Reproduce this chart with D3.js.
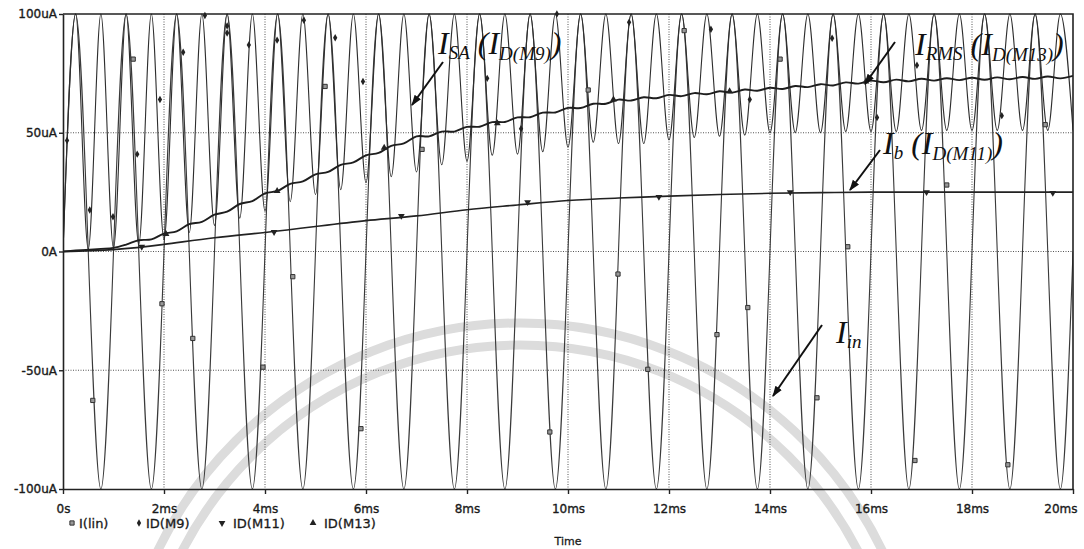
<!DOCTYPE html>
<html><head><meta charset="utf-8">
<script src="https://cdn.jsdelivr.net/npm/d3@7"></script>
<style>body{margin:0;background:#fff}svg{display:block}</style>
</head><body>
<svg id="c" width="1084" height="549"></svg>
<script>
// ---------- data (time in ms, current in uA) ----------
const yTicks = [-100, -50, 0, 50, 100];
const yTickLabels = ["-100uA", "-50uA", "0A", "50uA", "100uA"];
const xTicks = [0, 2, 4, 6, 8, 10, 12, 14, 16, 18, 20];
const xTickLabels = ["0s", "2ms", "4ms", "6ms", "8ms", "10ms", "12ms", "14ms", "16ms", "18ms", "20ms"];
const legendNames = ["I(lin)", "ID(M9)", "ID(M11)", "ID(M13)"];

// I(lin): 1 kHz input, positive peak and negative peak of every cycle
const linPeaks = [100,100,100,100,100,100,100,100,100,100,100,100,100,100,100,100,100,100,100,100];
const linTroughs = [-100,-100,-100,-100,-100,-100,-100,-100,-100,-100,-100,-100,-100,-100,-100,-100,-100,-100,-100,-100];

// ID(M9): rectified current, peak of every half cycle and the dip at each zero crossing
const m9Peaks = [100,100,100,100,100,100,100,100,100,100,100,100,100,100,100,100,100,100,100,100,
                 100,100,100,100,100,100,100,100,100,100,100,100,100,100,100,100,100,100,100,100];
const m9Floors = [1,1.5,3,5,8,11,14,17,21,24,26,29,31.5,33.5,36.5,38,40.5,41,42,44,
                  46,45.5,45.5,47,48,48.5,49,50,50,50,50.5,50.5,50.5,51,51,51,51,51,51,51];

// ID(M11) sampled every 1 ms
const m11Ms = [0,1,2,3,4,5,6,7,8,9,10,11,12,13,14,15,16,17,18,19,20];
const m11Values = [0,0.8,3,5.8,8,10.5,13,15,17.6,19.6,21.5,22.5,23.3,24,24.5,24.8,25,25,25,25,25];
// ID(M13) sampled every 0.25 ms (shows the ripple)
const m13Values = [0,0.4,0.75,1.1,1.5,2.9,4.75,5.1,7.5,8.5,11.5,12.5,15.5,16.75,20.0,21.25,
  24.5,25.5,28.5,29.5,32.5,33.5,36.5,37.5,40.5,41.5,44.5,45.5,48.5,48.5,50.5,50.5,
  52.45,52.55,54.45,54.55,56.45,56.55,58.45,58.55,60.45,60.4,62.2,62.2,63.95,63.55,64.95,64.55,
  65.95,65.4,66.7,66.2,67.45,66.9,68.2,67.7,68.95,68.4,69.7,69.2,70.45,69.9,71.2,70.7,
  71.95,71.25,72.35,71.65,72.75,71.95,72.95,72.15,73.15,72.3,73.3,72.5,73.45,72.7,73.7,72.9,73.95];

// sparse symbol markers [ms, uA]
const linMarks = [[0.59,-62.7],[1.39,81],[1.96,-22],[2.57,-36.6],[3.96,-48.7],[4.55,-10.6],[5.19,69.5],
  [5.90,-74.6],[7.11,43],[9.64,-76],[10.40,68],[10.99,-9.5],[11.58,-49.6],[12.30,93],[12.95,-35],
  [13.56,-23.6],[14.20,81],[14.93,-61.6],[15.54,2],[16.87,-88],[17.50,28],[18.71,-89.8],[19.45,53.4]];
const m9Marks = [[0.08,46.7],[0.53,17.5],[0.99,14.6],[1.47,41],[1.92,64],[2.38,83.9],[2.81,99.4],
  [3.25,95],[3.25,92],[3.68,87],[4.24,89],[4.77,97.4],[5.39,90],[5.94,71.6],[8.40,72.9],[9.07,51.7],
  [9.78,100],[11.21,96.5],[12.83,93.6],[13.60,64],[15.23,89.8],[16.12,56.4],[16.91,78.4],[18.59,57.2]];
const m11Marks = [[1.56,2],[4.18,8.2],[6.7,15],[9.2,20.8],[11.8,23],[14.4,25],[17.1,25],[19.6,24.7]];
const m13Marks = [[2.04,7.4],[4.24,25.5],[6.36,43.7],[8.6,54],[10.9,64],[13.2,67.5],[15.9,71.6]];

// ---------- build ----------
const svg = d3.select("#c");
const W = 1084, H = 549;
const L = 63, R = 1073, T = 14, B = 489;
const x = d3.scaleLinear().domain([0, 20]).range([L, R]);
const y = d3.scaleLinear().domain([-100, 100]).range([B, T]);

svg.append("rect").attr("width", W).attr("height", H).attr("fill", "#fff");

// faint watermark arcs (background)
const wm = svg.append("g").attr("fill", "none").attr("stroke", "#dcdcdc").attr("stroke-width", 9);
wm.append("circle").attr("cx", 520).attr("cy", 725).attr("r", 402);
wm.append("circle").attr("cx", 520).attr("cy", 725).attr("r", 380);

svg.append("clipPath").attr("id", "clip").append("rect")
  .attr("x", L).attr("y", T - 1).attr("width", R - L).attr("height", B - T + 2);

// grid
const grid = svg.append("g").attr("stroke", "#555").attr("stroke-width", 1).attr("stroke-dasharray", "1,1.5");
grid.selectAll("line.h").data(yTicks.filter(v => v > -100 && v < 100)).join("line")
  .attr("x1", L).attr("x2", R).attr("y1", d => y(d)).attr("y2", d => y(d));
grid.selectAll("line.v").data(xTicks.filter(v => v > 0 && v < 20)).join("line")
  .attr("y1", T).attr("y2", B).attr("x1", d => x(d)).attr("x2", d => x(d));

// series points
const linPts = [];
linPeaks.forEach((p, i) => {
  linPts.push([i, 0], [i + 0.25, p], [i + 0.5, 0], [i + 0.75, linTroughs[i]]);
});
linPts.push([20, 0]);
const m9Pts = [[0, 0]];
m9Peaks.forEach((p, k) => {
  m9Pts.push([0.25 + 0.5 * k, p], [0.5 + 0.5 * k, m9Floors[k]]);
});
const m11Pts = m11Ms.map((t, i) => [t, m11Values[i]]);
const m13Ms = d3.range(m13Values.length).map(i => i * 0.25);
const m13Pts = m13Ms.map((t, i) => [t, m13Values[i]]);

const plot = svg.append("g").attr("clip-path", "url(#clip)").attr("fill", "none");
const lineN = d3.line().x(d => x(d[0])).y(d => y(d[1])).curve(d3.curveNatural);
const lineM = d3.line().x(d => x(d[0])).y(d => y(d[1])).curve(d3.curveMonotoneX);
const lineC = d3.line().x(d => x(d[0])).y(d => y(d[1])).curve(d3.curveCatmullRom.alpha(0.5));
plot.append("path").attr("d", lineN(linPts)).attr("stroke", "#3a3a3a").attr("stroke-width", 1.1);
plot.append("path").attr("d", lineM(m9Pts)).attr("stroke", "#2e2e2e").attr("stroke-width", 1.1);
plot.append("path").attr("d", lineN(m11Pts)).attr("stroke", "#222").attr("stroke-width", 1.6);
plot.append("path").attr("d", lineC(m13Pts)).attr("stroke", "#1e1e1e").attr("stroke-width", 1.9);

// symbols
const sq = d3.symbol().type(d3.symbolSquare).size(18);
const di = d3.symbol().type(d3.symbolDiamond).size(16);
const tri = d3.symbol().type(d3.symbolTriangle).size(20);
const mk = svg.append("g");
mk.selectAll("path.l").data(linMarks).join("path").attr("d", sq)
  .attr("transform", d => `translate(${x(d[0])},${y(d[1])})`)
  .attr("fill", "#999").attr("stroke", "#333").attr("stroke-width", 1);
mk.selectAll("path.a").data(m9Marks).join("path").attr("d", di)
  .attr("transform", d => `translate(${x(d[0])},${y(d[1])})`).attr("fill", "#222");
mk.selectAll("path.b").data(m11Marks).join("path").attr("d", tri)
  .attr("transform", d => `translate(${x(d[0])},${y(d[1])}) rotate(180)`).attr("fill", "#222");
mk.selectAll("path.c").data(m13Marks).join("path").attr("d", tri)
  .attr("transform", d => `translate(${x(d[0])},${y(d[1])})`).attr("fill", "#222");

// frame and axes
svg.append("path").attr("d", `M${L},${T}H${R}V${B}`).attr("fill", "none").attr("stroke", "#222").attr("stroke-width", 1.6);
const fontAxis = "'DejaVu Sans', sans-serif";
const yAxis = d3.axisLeft(y).tickValues(yTicks).tickFormat((d, i) => yTickLabels[i])
  .tickSizeInner(4).tickSizeOuter(0).tickPadding(2);
const gy = svg.append("g").attr("transform", `translate(${L},0)`).call(yAxis);
const xAxis = d3.axisBottom(x).tickValues(xTicks).tickFormat((d, i) => xTickLabels[i])
  .tickSizeInner(5).tickSizeOuter(0).tickPadding(10);
const gx = svg.append("g").attr("transform", `translate(0,${B})`).call(xAxis);
[gx, gy].forEach(g => {
  g.select(".domain").attr("stroke", "#222").attr("stroke-width", 1.6);
  g.selectAll(".tick line").attr("stroke", "#222").attr("stroke-width", 1.4);
  g.selectAll("text").attr("font-family", fontAxis).attr("font-size", 12).attr("fill", "#1a1a1a")
    .attr("stroke", "#1a1a1a").attr("stroke-width", 0.35);
});
// last x label sits left of its tick so it stays inside the picture
gx.selectAll(".tick text").filter(d => d === 20).attr("text-anchor", "end").attr("x", 4);

svg.append("text").attr("x", (L + R) / 2).attr("y", 545).attr("text-anchor", "middle")
  .attr("font-family", fontAxis).attr("font-size", 11).attr("fill", "#1a1a1a")
  .attr("stroke", "#1a1a1a").attr("stroke-width", 0.3).text("Time");

// legend
const legX = [72, 139, 222, 313];
const lg = svg.append("g").attr("font-family", fontAxis).attr("font-size", 13).attr("fill", "#1a1a1a");
legendNames.forEach((n, i) => {
  const cx = legX[i], cy = 523;
  let sym;
  if (i === 0) sym = lg.append("path").attr("d", sq).attr("fill", "#999").attr("stroke", "#333");
  else if (i === 1) sym = lg.append("path").attr("d", di).attr("fill", "#222");
  else sym = lg.append("path").attr("d", tri).attr("fill", "#222");
  sym.attr("transform", `translate(${cx},${cy})` + (i === 2 ? " rotate(180)" : ""));
  lg.append("text").attr("x", cx + 7 + (i > 1 ? 4 : 0)).attr("y", 528)
    .attr("stroke", "#1a1a1a").attr("stroke-width", 0.3).text(n);
});

// annotations
const defs = svg.append("defs");
defs.append("marker").attr("id", "ah").attr("viewBox", "0 0 10 10").attr("refX", 9).attr("refY", 5)
  .attr("markerWidth", 11).attr("markerHeight", 11).attr("markerUnits", "userSpaceOnUse").attr("orient", "auto")
  .append("path").attr("d", "M0,1.5L10,5L0,8.5z").attr("fill", "#111");
const arrows = [[443, 62, 412, 105], [895, 42, 865, 84], [880, 150, 850, 190], [822, 325, 773, 396]];
svg.append("g").selectAll("line").data(arrows).join("line")
  .attr("x1", d => d[0]).attr("y1", d => d[1]).attr("x2", d => d[2]).attr("y2", d => d[3])
  .attr("stroke", "#111").attr("stroke-width", 2).attr("marker-end", "url(#ah)");

function label(px, py, main, sub, inner, innerSub) {
  const t = svg.append("text").attr("x", px).attr("y", py)
    .attr("font-family", "'Liberation Serif', 'Times New Roman', serif").attr("font-style", "italic")
    .attr("font-size", 32).attr("fill", "#111");
  t.append("tspan").text(main);
  t.append("tspan").attr("font-size", 19).attr("dy", 5).text(sub);
  if (inner) {
    t.append("tspan").attr("dy", -5).text(" (" + inner);
    t.append("tspan").attr("font-size", 19).attr("dy", 6).text(innerSub);
    t.append("tspan").attr("dy", -6).text(")");
  }
}
label(438, 54, "I", "SA", "I", "D(M9)");
label(915, 55, "I", "RMS", "I", "D(M13)");
label(883, 154, "I", "b", "I", "D(M11)");
label(836, 343, "I", "in");
</script>
</body></html>
